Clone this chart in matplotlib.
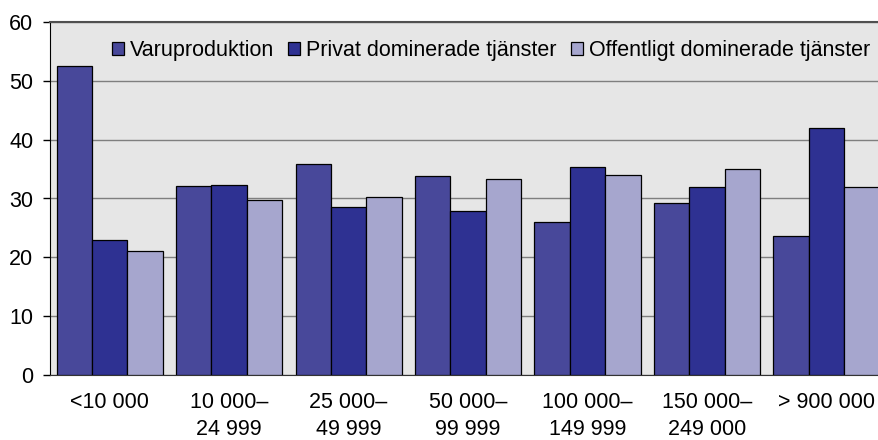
import matplotlib
matplotlib.use("Agg")
import matplotlib.pyplot as plt
import numpy as np

categories = ["<10 000", "10 000–\n24 999", "25 000–\n49 999", "50 000–\n99 999",
              "100 000–\n149 999", "150 000–\n249 000", "> 900 000"]
series_names = ["Varuproduktion", "Privat dominerade tjänster", "Offentligt dominerade tjänster"]
varu = [52.6, 32.2, 35.9, 33.8, 26.0, 29.2, 23.6]
privat = [22.9, 32.3, 28.5, 27.9, 35.3, 31.9, 42.0]
offentligt = [21.0, 29.7, 30.3, 33.3, 34.0, 35.0, 32.0]
yticks = [0, 10, 20, 30, 40, 50, 60]

colors = ["#48489A", "#2E3192", "#A6A6CE"]

plt.rcParams['font.family'] = ['Liberation Sans', 'DejaVu Sans']
fs = 15.5
fig = plt.figure(figsize=(8.79, 4.40), dpi=100)
ax = fig.add_axes([50/879, 1-375/440, 1-50/879, (375-22)/440])
ax.set_facecolor("#E6E6E6")

x = np.arange(len(categories))
w = 0.296
for i, (vals, c, name) in enumerate(zip([varu, privat, offentligt], colors, series_names)):
    ax.bar(x + (i-1)*w, vals, width=w, color=c, edgecolor="black", linewidth=0.9,
           label=name, zorder=3)

ax.set_ylim(0, 60)
ax.set_xlim(-0.50, 6.44)
ax.set_yticks(yticks)
ax.set_yticklabels([str(v) for v in yticks], fontsize=fs)
ax.yaxis.grid(True, color="#7F7F7F", linewidth=1.0, zorder=1)
ax.set_axisbelow(True)
ax.set_xticks(x)
ax.set_xticklabels(categories, fontsize=fs, linespacing=1.36)
ax.tick_params(axis='x', length=0, pad=12.5)
ax.tick_params(axis='y', length=5, width=1, pad=7, colors="black")
ax.spines["right"].set_visible(False)
ax.spines["top"].set_color("#505050")
ax.spines["top"].set_linewidth(1.5)
ax.spines["left"].set_color("black")
ax.spines["bottom"].set_color("#333333")

leg = ax.legend(loc="center", bbox_to_anchor=(0.532, 0.919), ncol=3, frameon=False,
                fontsize=fs, handlelength=0.56, handleheight=0.56, handletextpad=0.28,
                columnspacing=0.65, borderaxespad=0)
for h in leg.legend_handles:
    h.set_linewidth(0.9)

fig.savefig("out.png", dpi=100)
